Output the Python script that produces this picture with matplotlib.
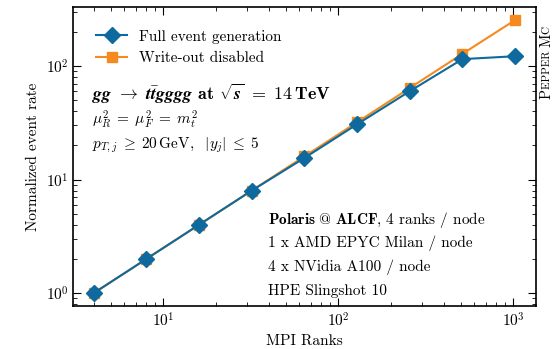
import matplotlib
matplotlib.use("Agg")
import matplotlib.pyplot as plt

plt.rcParams['font.family'] = 'serif'
plt.rcParams['font.serif'] = ['cmr10', 'DejaVu Serif']
plt.rcParams['mathtext.fontset'] = 'cm'
plt.rcParams['axes.formatter.use_mathtext'] = True
plt.rcParams['font.size'] = 11

# data
ranks = [4, 8, 16, 32, 64, 128, 256, 512, 1024]
full_rate = [1, 2, 4, 8, 15.5, 30.7, 60, 115, 122]
nowrite_rate = [1, 2, 4, 8, 16, 32, 64, 128, 254]

blue = '#0e6a9e'
orange = '#f58a1f'

fig, ax = plt.subplots(figsize=(5.55, 3.49), dpi=100)
fig.subplots_adjust(left=0.132, right=0.966, top=0.98, bottom=0.123)

ax.plot(ranks, nowrite_rate, marker='s', color=orange, ms=7.5, lw=1.5,
        label='Write-out disabled', zorder=2)
ax.plot(ranks, full_rate, marker='D', color=blue, ms=8, lw=1.5,
        label='Full event generation', zorder=3)

ax.set_xscale('log')
ax.set_yscale('log')
ax.set_xlim(3.06, 1350)
ax.set_ylim(0.77, 331)
ax.set_xlabel('MPI Ranks')
ax.set_ylabel('Normalized event rate')

ax.tick_params(which='both', direction='in', top=True, right=True)
ax.tick_params(which='major', length=6)
ax.tick_params(which='minor', length=3)
for s in ax.spines.values():
    s.set_linewidth(1.2)

h, l = ax.get_legend_handles_labels()
ax.legend(h[::-1], l[::-1], loc='upper left', frameon=False,
          bbox_to_anchor=(0.02, 0.97), handlelength=2.0, fontsize=11)

ax.text(0.04, 0.69, r'$\mathbfit{gg}\ \rightarrow\ \mathbfit{t}\bar{\mathbfit{t}}\mathbfit{gggg}$'
        r' $\mathbf{at}$ $\sqrt{\mathbfit{s}}\ \mathbf{=\ 14\,TeV}$',
        transform=ax.transAxes, fontsize=13)
ax.text(0.04, 0.605, r'$\mu_R^2\;=\;\mu_F^2\;=\;m_t^2$', transform=ax.transAxes)
ax.text(0.04, 0.527, r'$p_{T,j}\;\geq\;20\,\mathrm{GeV},\ \ |y_j|\;\leq\;5$',
        transform=ax.transAxes)

lines = [r'$\mathbf{Polaris\ @\ ALCF}$, 4 ranks / node',
         '1 x AMD EPYC Milan / node',
         '4 x NVidia A100 / node',
         'HPE Slingshot 10']
for i, t in enumerate(lines):
    ax.text(0.42, 0.275 - i * 0.079, t, transform=ax.transAxes)

# small-caps "Pepper MC" on the right, built piece by piece
fig.canvas.draw()
renderer = fig.canvas.get_renderer()
xc = 547
ypos = 349 - 99
for piece, size in [('P', 10.5), ('EPPER ', 8), ('M', 10.5), ('C', 8)]:
    t = fig.text(xc, ypos, piece, rotation=90, fontsize=size, ha='center',
                 va='bottom', transform=None)
    bb = t.get_window_extent(renderer)
    ypos = bb.y1
fig.savefig('out.png', dpi=100)
